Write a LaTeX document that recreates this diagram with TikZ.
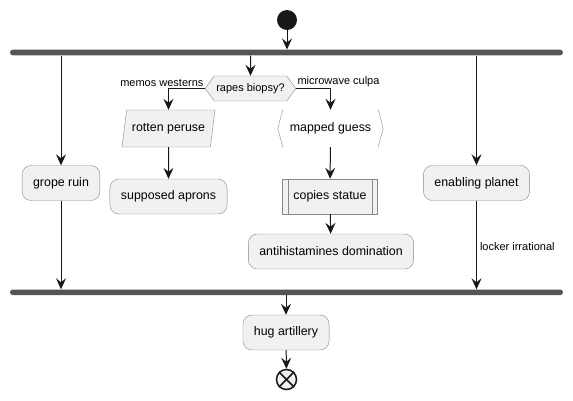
\documentclass[tikz,border=0pt]{standalone}
\usepackage{fontspec}
\setmainfont{Liberation Sans}
\usetikzlibrary{arrows.meta,shapes.geometric,shapes.symbols}
\definecolor{boxfill}{HTML}{F1F1F1}
\definecolor{boxline}{HTML}{888888}
\definecolor{barcol}{HTML}{555555}
\definecolor{ink}{HTML}{181818}
\begin{document}
\begin{tikzpicture}[x=1pt,y=-1pt,
  act/.style={draw=boxline,fill=boxfill,rounded corners=9pt,
    minimum height=35pt,inner xsep=11pt,font=\fontsize{12.4}{14}\selectfont},
  flow/.style={draw=ink,line width=1pt,-{Stealth[length=11pt,width=10pt,inset=4pt]}},
  lbl/.style={font=\fontsize{11}{13}\selectfont,inner sep=1pt},
  syncbar/.style={fill=barcol,rounded corners=2.8pt,minimum width=553pt,
    minimum height=5.6pt,inner sep=0pt}]
\useasboundingbox (0,0) rectangle (573,400);
\node[circle,fill=ink,minimum size=20pt,inner sep=0pt] (start) at (287,20) {};
\node[syncbar] (fork) at (286.5,52.5) {};
\node[syncbar] (join) at (286.5,292.3) {};
\draw[flow] (start) -- (start |- fork.north);
\node[act] (grope) at (61,183) {grope ruin};
\node[act] (planet) at (476.5,183) {enabling planet};
\node[signal,signal to=east and west,signal pointer angle=108,draw=boxline,
  fill=boxfill,minimum height=25pt,inner xsep=2pt,font=\fontsize{11}{13}\selectfont]
  (dec) at (250.5,88.5) {rapes biopsy?};
\node[trapezium,trapezium left angle=75,trapezium right angle=105,
  trapezium stretches body,draw=boxline,fill=boxfill,minimum width=93pt,
  minimum height=37pt,font=\fontsize{12.4}{14}\selectfont] (rotten) at (168.5,128.5) {rotten peruse};
\node[minimum width=105pt,minimum height=37pt,font=\fontsize{12.4}{14}\selectfont]
  (mapped) at (330.5,128.5) {mapped guess};
\draw[boxline] ([xshift=5pt]mapped.north west) -- (mapped.west)
  -- ([xshift=5pt]mapped.south west);
\draw[boxline] ([xshift=-5pt]mapped.north east) -- (mapped.east)
  -- ([xshift=-5pt]mapped.south east);
\node[act] (aprons) at (168.5,196.5) {supposed aprons};
\node[act,rounded corners=0pt,minimum width=95pt] (statue) at (330,196.5) {copies statue};
\draw[boxline] ([xshift=5.5pt]statue.north west) -- ([xshift=5.5pt]statue.south west);
\draw[boxline] ([xshift=-5.5pt]statue.north east) -- ([xshift=-5.5pt]statue.south east);
\node[act] (anti) at (331,251.5) {antihistamines domination};
\node[act] (hug) at (286,332.5) {hug artillery};
\node[circle,draw=ink,line width=1.5pt,fill=boxfill,minimum size=20pt,inner sep=0pt]
  (stop) at (286.5,379.5) {};
\draw[ink,line width=1.5pt] (stop.north west) -- (stop.south east);
\draw[ink,line width=1.5pt] (stop.north east) -- (stop.south west);
\draw[flow] (grope |- fork.south) -- (grope);
\draw[flow] (dec |- fork.south) -- (dec);
\draw[flow] (planet |- fork.south) -- (planet);
\draw[flow] (dec.west) -| (rotten)
  node[lbl,pos=0,above left] {memos westerns};
\draw[flow] (dec.east) -| (mapped)
  node[lbl,pos=0,above right] {microwave culpa};
\draw[flow] (rotten) -- (aprons);
\draw[flow] (mapped) -- (statue);
\draw[flow] (statue) -- (anti);
\draw[flow] (grope) -- (grope |- join.north);
\draw[flow] (planet) -- node[lbl,right,xshift=2pt,pos=0.52] {locker irrational}
  (planet |- join.north);
\draw[flow] (hug |- join.south) -- (hug);
\draw[flow] (hug) -- (stop);
\end{tikzpicture}
\end{document}
